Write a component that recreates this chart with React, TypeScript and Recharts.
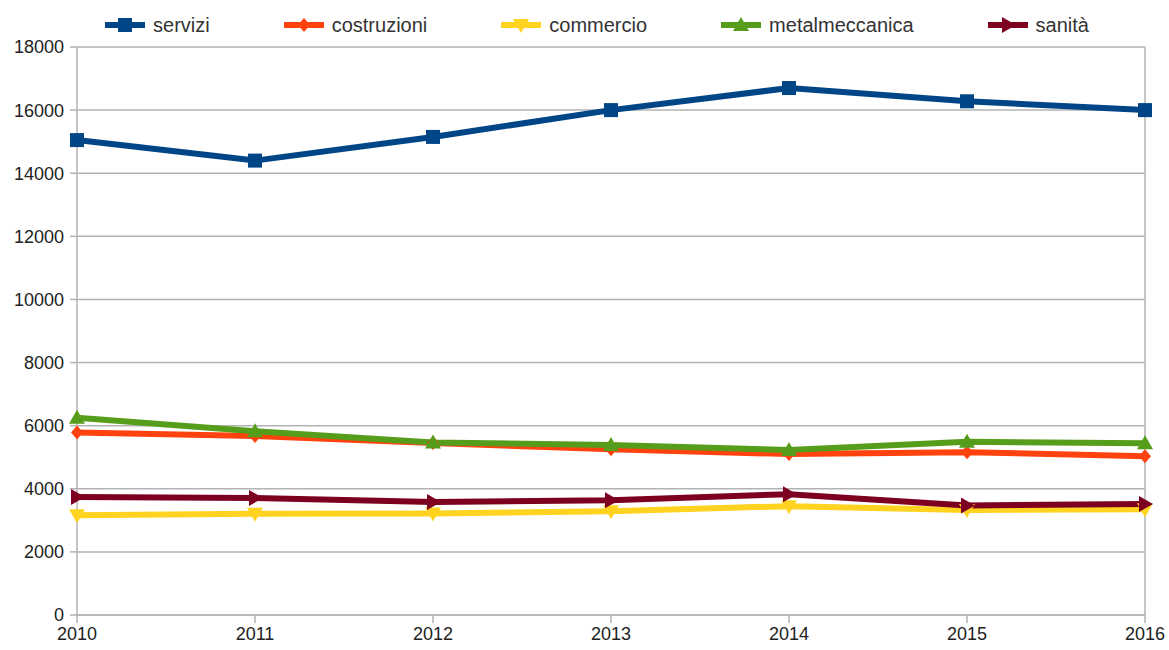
import { CartesianGrid, Legend, Line, LineChart, ReferenceLine, XAxis, YAxis } from "recharts"

const years = ["2010", "2011", "2012", "2013", "2014", "2015", "2016"]
const servizi = [15050, 14400, 15150, 16000, 16700, 16280, 16000]
const costruzioni = [5780, 5670, 5450, 5250, 5100, 5160, 5030]
const commercio = [3160, 3210, 3220, 3290, 3450, 3330, 3350]
const metalmeccanica = [6250, 5820, 5470, 5390, 5230, 5490, 5440]
const sanita = [3740, 3710, 3580, 3640, 3830, 3470, 3520]
const yTicks = [0, 2000, 4000, 6000, 8000, 10000, 12000, 14000, 16000, 18000]

const data = years.map((year, i) => ({
  year,
  servizi: servizi[i],
  costruzioni: costruzioni[i],
  commercio: commercio[i],
  metalmeccanica: metalmeccanica[i],
  sanita: sanita[i],
}))

type Shape = "square" | "diamond" | "down" | "up" | "right"

const series: { key: string; name: string; color: string; shape: Shape }[] = [
  { key: "servizi", name: "servizi", color: "#004586", shape: "square" },
  { key: "costruzioni", name: "costruzioni", color: "#ff420e", shape: "diamond" },
  { key: "commercio", name: "commercio", color: "#ffd320", shape: "down" },
  { key: "metalmeccanica", name: "metalmeccanica", color: "#579d1c", shape: "up" },
  { key: "sanita", name: "sanità", color: "#7e0021", shape: "right" },
]

const FONT = "'Liberation Sans', Arial, sans-serif"
const GRID = "#b3b3b3"

function marker(shape: Shape, cx: number, cy: number, color: string, key?: number) {
  switch (shape) {
    case "square":
      return <rect key={key} x={cx - 7} y={cy - 7} width={14} height={14} fill={color} />
    case "diamond":
      return <polygon key={key} points={`${cx},${cy - 7} ${cx + 6},${cy} ${cx},${cy + 7} ${cx - 6},${cy}`} fill={color} />
    case "down":
      return <polygon key={key} points={`${cx - 8},${cy - 6} ${cx + 8},${cy - 6} ${cx},${cy + 8}`} fill={color} />
    case "up":
      return <polygon key={key} points={`${cx - 8},${cy + 6} ${cx + 8},${cy + 6} ${cx},${cy - 8}`} fill={color} />
    case "right":
      return <polygon key={key} points={`${cx - 6},${cy - 8} ${cx - 6},${cy + 8} ${cx + 8},${cy}`} fill={color} />
  }
}

function LegendContent() {
  return (
    <div
      style={{
        height: 40,
        paddingTop: 6,
        boxSizing: "border-box",
        display: "flex",
        justifyContent: "center",
        gap: 72,
        fontFamily: FONT,
        fontSize: 20,
        color: "#333",
        marginLeft: 47,
      }}
    >
      {series.map((s) => (
        <div key={s.key} style={{ display: "flex", alignItems: "center", height: 24 }}>
          <svg width={44} height={20} style={{ marginRight: 6 }}>
            <line x1={2} y1={10} x2={42} y2={10} stroke={s.color} strokeWidth={6} />
            {marker(s.shape, 22, 10, s.color)}
          </svg>
          <span>{s.name}</span>
        </div>
      ))}
    </div>
  )
}

export default function App() {
  return (
    <div style={{ position: "absolute", left: 0, top: 0, width: 1169, height: 650, background: "#fff" }}>
      <LineChart width={1169} height={650} data={data} margin={{ top: 7, right: 24, left: 0, bottom: 0 }}>
        <CartesianGrid vertical={false} stroke={GRID} strokeWidth={1.5} />
        <ReferenceLine x="2016" stroke={GRID} strokeWidth={1.5} />
        <XAxis
          dataKey="year"
          height={35}
          stroke={GRID}
          strokeWidth={1.5}
          tickSize={8}
          tickMargin={4}
          tick={{ fill: "#222", fontSize: 18, fontFamily: FONT }}
          interval={0}
        />
        <YAxis
          width={77}
          domain={[0, 18000]}
          ticks={yTicks}
          stroke={GRID}
          strokeWidth={1.5}
          tickSize={7}
          tickMargin={6}
          tick={{ fill: "#222", fontSize: 18, fontFamily: FONT }}
          interval={0}
        />
        <Legend verticalAlign="top" content={LegendContent} />
        {series.map((s) => (
          <Line
            key={s.key}
            dataKey={s.key}
            name={s.name}
            stroke={s.color}
            strokeWidth={6}
            isAnimationActive={false}
            dot={(p: any) => marker(s.shape, p.cx, p.cy, s.color, p.index)}
            activeDot={false}
          />
        ))}
      </LineChart>
    </div>
  )
}
